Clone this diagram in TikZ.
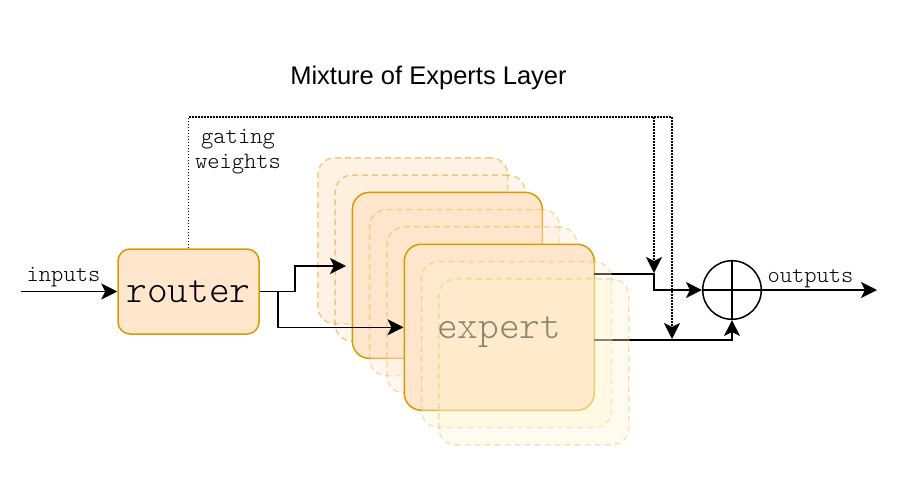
\documentclass[tikz,border=0pt]{standalone}
\usepackage{fontspec}
\setmainfont{Liberation Sans}
\newfontfamily\lightmono{Latin Modern Mono Light}
\usetikzlibrary{arrows.meta,calc}
\definecolor{orfill}{HTML}{FFE6CC}
\definecolor{orline}{HTML}{D79B00}
\definecolor{yefill}{HTML}{FFF2CC}
\definecolor{yeline}{HTML}{D6B656}
\begin{document}
\begin{tikzpicture}[x=1pt,y=-1pt,
  tipst/.style={-{Stealth[length=16pt,width=16pt,inset=4pt]}},
  wire/.style={line width=1.5pt},
  conn/.style={wire,tipst},
  gate/.style={line width=1.5pt,dash pattern=on 1.5pt off 1.5pt},
  gatearrow/.style={gate,tipst},
  smalllabel/.style={font=\lightmono\fontsize{23.4}{25}\selectfont,inner sep=0pt},
  biglabel/.style={font=\lightmono\fontsize{39.4}{44}\selectfont,text height=23pt,text depth=1.4pt},
  expbox/.style={rounded corners=17pt,minimum width=190pt,minimum height=166pt,anchor=north west,inner sep=0pt,line width=1.5pt},
  backghost/.style={expbox,draw=orline,draw opacity=0.45,fill=orfill,dash pattern=on 6pt off 4pt},
  midghost/.style={expbox,draw=orline,draw opacity=0.3,fill=orfill,fill opacity=0.3,dash pattern=on 6pt off 4pt},
  frontghost/.style={expbox,draw=yeline,draw opacity=0.35,fill=yefill,fill opacity=0.33,dash pattern=on 6pt off 4pt},
  solidexp/.style={expbox,draw=orline,fill=orfill},
]
\useasboundingbox (0,0) rectangle (922,477);

% title
\node[font=\fontsize{25.5}{30}\selectfont,anchor=base,inner sep=0pt] (title) at (428.5,84.3) {Mixture of Experts Layer};

% router
\node[draw=orline,fill=orfill,line width=1.5pt,rounded corners=12pt,minimum width=141pt,minimum height=85pt,inner sep=0pt,biglabel] (router) at (188.5,291.5) {router};

% expert stack
\node[backghost,fill opacity=0.5] (e0) at (317,157) {};
\node[backghost,fill opacity=0.3] (e1) at (334.3,174.3) {};
\node[solidexp] (e2) at (351.6,191.6) {};
\node[midghost] (e3) at (368.9,208.9) {};
\node[midghost] (e4) at (386.2,226.2) {};

% inputs
\coordinate (inp) at (21,291.5);
\draw[conn] (inp) -- (router.west);
\node[smalllabel,anchor=base] (inlabel) at (63.5,281.7) {inputs};

% router to experts
\coordinate (r1) at (295,291.5);
\coordinate (rb) at (278,291.5);
\coordinate (cin) at (346,266);
\draw[conn] (router.east) -- (r1) |- (cin);

\node[solidexp,biglabel] (e5) at (403.5,243.5) {expert};
\draw[conn] (rb) |- (e5.west);

% sum node
\node[circle,draw,line width=1.5pt,minimum size=58.6pt,inner sep=0pt] (sum) at (732,290) {};
\draw[wire] (sum.north) -- (sum.south) (sum.west) -- (sum.east);

% expert outputs
\coordinate (fo1) at (593.5,274);
\coordinate (fo2) at (593.5,340);
\coordinate (ju) at (654,274);
\draw[conn] (fo1) -- (ju) |- (sum.west);
\draw[conn] (fo2) -| (sum.south);

% front ghosts (drawn over)
\node[frontghost] (e6) at (420.8,260.8) {};
\node[frontghost] (e7) at (438.1,278.1) {};

% gating weights
\coordinate (gr) at (672,117);
\coordinate (gm) at (654,117);
\coordinate (jl) at (672,339);
\coordinate (jm) at (654,273);
\draw[gatearrow] (router.north) |- (gr) -- (jl);
\draw[gatearrow] (gm) -- (jm);
\node[smalllabel,align=center,anchor=base] (gatelabel) at (238,168.3) {gating\\weights};

% output
\coordinate (outend) at (877,290);
\draw[conn] (sum.east) -- (outend);
\node[smalllabel,anchor=base] (outlabel) at (810.5,282.7) {outputs};
\end{tikzpicture}
\end{document}
